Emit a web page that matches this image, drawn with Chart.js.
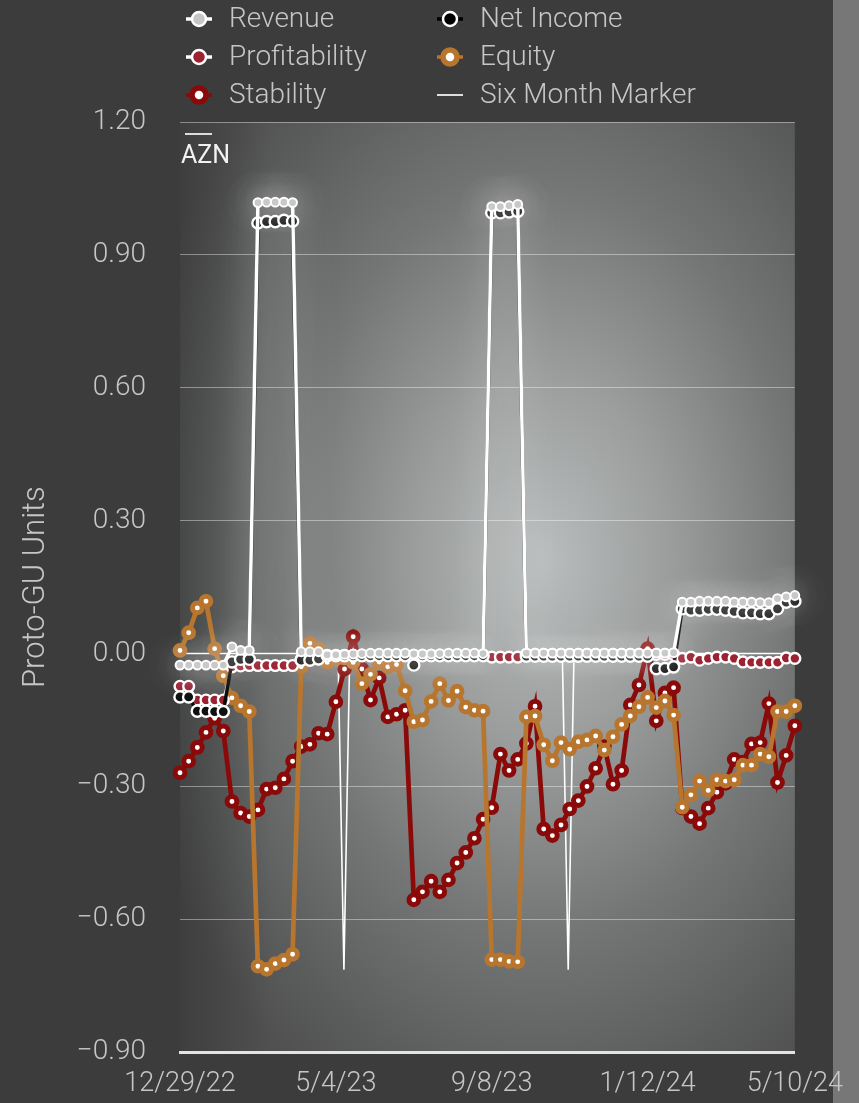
<!DOCTYPE html>
<html><head><meta charset="utf-8">
<script src="https://cdn.jsdelivr.net/npm/chart.js@4/dist/chart.umd.min.js"></script>
<style>
html,body{margin:0;padding:0;background:#3c3c3c;width:859px;height:1103px;overflow:hidden;}
#strip{position:absolute;left:833px;top:0;width:26px;height:1103px;background:#777777;}
#wrap{position:absolute;left:0;top:0;width:859px;height:1103px;}
</style></head><body>
<div id="strip"></div>
<div id="wrap"><canvas id="c" width="859" height="1103"></canvas></div>
<script>
// ---- data ----
const tickIdx = [0, 18, 36, 54, 71];
const tickLabels = ['12/29/22', '5/4/23', '9/8/23', '1/12/24', '5/10/24'];
const yTicks = [1.2, 0.9, 0.6, 0.3, 0, -0.3, -0.6, -0.9];
const ticker = 'AZN';

const revenue = [
 -0.026,-0.026,-0.026,-0.026,-0.026,-0.026,0.015,0.007,0.007,1.018,
 1.019,1.019,1.019,1.018,0.004,0.004,0.004,-0.003,-0.003,-0.002,
 -0.001,0.000,0.001,0.001,0.001,0.001,0.001,-0.001,-0.001,-0.001,
 0.000,0.001,0.001,0.001,0.001,0.000,1.009,1.009,1.011,1.014,
 0.001,0.001,0.001,0.001,0.001,0.001,0.001,0.001,0.001,0.001,
 0.001,0.001,0.001,0.001,0.001,0.001,0.001,0.002,0.116,0.116,
 0.118,0.118,0.118,0.118,0.116,0.116,0.116,0.115,0.115,0.124,
 0.128,0.131];
const netIncome = [
 -0.098,-0.098,-0.130,-0.130,-0.131,-0.131,-0.019,-0.013,-0.013,0.972,
 0.975,0.975,0.978,0.976,-0.015,-0.015,-0.012,-0.005,-0.005,-0.005,
 -0.005,-0.005,-0.005,-0.005,-0.005,-0.005,-0.005,-0.026,-0.005,-0.005,
 -0.005,-0.005,-0.005,-0.005,-0.005,-0.005,0.995,0.995,0.997,0.998,
 -0.006,-0.006,-0.006,-0.006,-0.006,-0.006,-0.006,-0.006,-0.006,-0.006,
 -0.006,-0.006,-0.006,-0.006,-0.006,-0.034,-0.034,-0.030,0.101,0.098,
 0.098,0.100,0.100,0.098,0.095,0.092,0.092,0.090,0.090,0.101,
 0.116,0.118];
const profitability = [
 -0.074,-0.074,-0.105,-0.105,-0.105,-0.105,-0.030,-0.028,-0.027,-0.027,
 -0.027,-0.027,-0.027,-0.027,-0.012,-0.012,-0.012,-0.004,-0.004,-0.004,
 -0.004,-0.004,-0.004,-0.004,-0.004,-0.004,-0.004,-0.004,-0.004,-0.004,
 -0.004,-0.004,-0.004,-0.004,-0.004,-0.004,-0.008,-0.008,-0.008,-0.008,
 -0.002,-0.002,-0.002,-0.002,-0.002,-0.002,-0.002,-0.002,-0.002,-0.002,
 -0.002,-0.002,-0.002,-0.002,-0.002,-0.002,-0.002,-0.002,-0.011,-0.008,
 -0.015,-0.011,-0.008,-0.008,-0.011,-0.019,-0.020,-0.020,-0.020,-0.020,
 -0.010,-0.011];
const equity = [
 0.007,0.047,0.103,0.118,0.011,-0.050,-0.100,-0.118,-0.131,-0.706,
 -0.713,-0.700,-0.692,-0.679,-0.030,0.023,0.010,-0.020,-0.012,-0.010,
 -0.020,-0.068,-0.047,-0.019,-0.030,-0.025,-0.084,-0.154,-0.150,-0.108,
 -0.068,-0.106,-0.085,-0.121,-0.128,-0.130,-0.691,-0.691,-0.695,-0.696,
 -0.143,-0.141,-0.206,-0.242,-0.201,-0.216,-0.199,-0.195,-0.186,-0.218,
 -0.188,-0.160,-0.141,-0.120,-0.099,-0.122,-0.107,-0.139,-0.347,-0.319,
 -0.288,-0.309,-0.285,-0.288,-0.285,-0.252,-0.252,-0.227,-0.233,-0.131,
 -0.131,-0.118];
const stability = [
 -0.269,-0.243,-0.212,-0.178,-0.146,-0.175,-0.334,-0.360,-0.368,-0.353,
 -0.306,-0.303,-0.283,-0.243,-0.210,-0.205,-0.180,-0.182,-0.109,-0.035,
 0.038,-0.035,-0.105,-0.055,-0.143,-0.137,-0.128,-0.556,-0.538,-0.514,
 -0.538,-0.511,-0.473,-0.449,-0.417,-0.374,-0.348,-0.227,-0.264,-0.239,
 -0.203,-0.119,-0.396,-0.411,-0.387,-0.351,-0.332,-0.300,-0.259,-0.210,
 -0.295,-0.264,-0.116,-0.071,0.011,-0.152,-0.089,-0.077,-0.349,-0.368,
 -0.384,-0.349,-0.313,-0.293,-0.239,-0.245,-0.204,-0.201,-0.113,-0.291,
 -0.230,-0.163];
const markerX = [0, 18.25, 18.93, 19.6, 44.15, 44.83, 45.5, 71];
const markerY = [0, 0, -0.714, 0, 0, -0.714, 0, 0];

// ---- build ----
const pts = arr => arr.map((v, i) => ({x: i, y: v}));
const FONT = 'Roboto, "Noto Sans", sans-serif';
const TXT = '#c6c6c6';

const datasets = [
 {label:'Revenue', data: pts(revenue), borderColor:'#ffffff', borderWidth:3.5,
  pointBackgroundColor:'#c6c6c6', pointBorderColor:'#ffffff', pointRadius:4.4, pointBorderWidth:2,
  legendFill:'#c6c6c6', legendBorder:'#ffffff', legendLine:'#ffffff', ring:false},
 {label:'Net Income', data: pts(netIncome), borderColor:'#0a0a0a', borderWidth:3.5,
  pointBackgroundColor:'#101010', pointBorderColor:'#ffffff', pointRadius:5.6, pointBorderWidth:2.4,
  legendFill:'#000000', legendBorder:'#ffffff', legendLine:'#000000', ring:false},
 {label:'Profitability', data: pts(profitability), borderColor:'#ffffff', borderWidth:2.5,
  pointBackgroundColor:'#9c2232', pointBorderColor:'#ffffff', pointRadius:5.4, pointBorderWidth:2.4,
  legendFill:'#9c2232', legendBorder:'#ffffff', legendLine:'#ffffff', ring:false},
 {label:'Equity', data: pts(equity), borderColor:'#b8752e', borderWidth:4.7,
  pointBackgroundColor:'#ffffff', pointBorderColor:'#b8752e', pointRadius:4.9, pointBorderWidth:4.9,
  legendFill:'#ffffff', legendBorder:'#b8752e', legendLine:'#b8752e', ring:true},
 {label:'Stability', data: pts(stability), borderColor:'#8a0909', borderWidth:4.7,
  pointBackgroundColor:'#ffffff', pointBorderColor:'#8a0909', pointRadius:4.9, pointBorderWidth:4.9,
  legendFill:'#ffffff', legendBorder:'#8a0909', legendLine:'#8a0909', ring:true},
 {label:'Six Month Marker', data: markerX.map((x, i) => ({x, y: markerY[i]})), borderColor:'#ffffff', borderWidth:1.6,
  pointRadius:0, legendLine:'#dddddd', lineOnly:true}
];
datasets.forEach(d => { d.tension = 0; d.clip = false; d.fill = false; });

const bgPlugin = {
  id:'bg',
  beforeDraw(chart){
    const {ctx, chartArea:a} = chart;
    const w = a.right - a.left, h = a.bottom - a.top;
    ctx.save();
    ctx.beginPath(); ctx.rect(a.left, a.top, w, h); ctx.clip();
    const cx = a.left + w * 0.59, cy = a.top + h * 0.47;
    ctx.translate(cx, cy); ctx.scale(1, 1.45);
    const g = ctx.createRadialGradient(0, 0, 0, 0, 0, 430);
    g.addColorStop(0, '#babdbd');
    g.addColorStop(0.3, '#9a9d9c');
    g.addColorStop(0.6, '#747675');
    g.addColorStop(0.85, '#5c5e5d');
    g.addColorStop(1, '#4f504f');
    ctx.fillStyle = g;
    ctx.fillRect(-1000, -1000, 2000, 2000);
    ctx.setTransform(1, 0, 0, 1, 0, 0);
    const lg = ctx.createLinearGradient(a.left, 0, a.left + 90, 0);
    lg.addColorStop(0, 'rgba(30,30,30,0.35)');
    lg.addColorStop(1, 'rgba(30,30,30,0)');
    ctx.fillStyle = lg;
    ctx.fillRect(a.left, a.top, 90, h);
    ctx.restore();
  }
};

const glowPlugin = {
  id:'glow',
  beforeDatasetDraw(chart, args){
    if (args.index === 0) {
      chart.ctx.save();
      chart.ctx.shadowColor = 'rgba(255,255,255,0.7)';
      chart.ctx.shadowBlur = 32;
    }
  },
  afterDatasetDraw(chart, args){
    if (args.index === 0) chart.ctx.restore();
  }
};

const LEG = {x0:199, dx:251, y0:19, dy:38, half:13, textGap:30, r:7};
const legendPlugin = {
  id:'customLegend',
  afterDraw(chart){
    const ctx = chart.ctx;
    ctx.save();
    ctx.font = '300 28px ' + FONT;
    ctx.textBaseline = 'middle';
    ctx.textAlign = 'left';
    chart.data.datasets.forEach((ds, i) => {
      const col = i % 2, row = Math.floor(i / 2);
      const cx = LEG.x0 + col * LEG.dx, cy = LEG.y0 + row * LEG.dy;
      ctx.strokeStyle = ds.legendLine;
      ctx.lineWidth = ds.lineOnly ? 2 : 3.5;
      ctx.beginPath(); ctx.moveTo(cx - LEG.half, cy); ctx.lineTo(cx + LEG.half, cy); ctx.stroke();
      if (!ds.lineOnly) {
        ctx.beginPath(); ctx.arc(cx, cy, LEG.r, 0, Math.PI * 2);
        ctx.fillStyle = ds.legendFill; ctx.fill();
        ctx.lineWidth = ds.ring ? 5.5 : 2.5; ctx.strokeStyle = ds.legendBorder; ctx.stroke();
      }
      ctx.fillStyle = TXT;
      ctx.fillText(ds.label, cx + LEG.textGap, cy + 1);
    });
    // ticker label
    const a = chart.chartArea;
    ctx.fillStyle = '#f2f2f2';
    ctx.font = '25px ' + FONT;
    ctx.textBaseline = 'alphabetic';
    ctx.fillText(ticker, a.left + 1, a.top + 41);
    ctx.strokeStyle = '#dddddd'; ctx.lineWidth = 2;
    ctx.beginPath(); ctx.moveTo(a.left + 5, a.top + 12); ctx.lineTo(a.left + 32, a.top + 12); ctx.stroke();
    ctx.restore();
  }
};

new Chart(document.getElementById('c'), {
  type:'line',
  data:{datasets},
  plugins:[bgPlugin, glowPlugin, legendPlugin],
  options:{
    responsive:false, animation:false, devicePixelRatio:1,
    layout:{padding:{top:122, right:64, left:0, bottom:0}},
    plugins:{legend:{display:false}, tooltip:{enabled:false}},
    scales:{
      x:{type:'linear', min:0, max:71,
        afterBuildTicks: s => { s.ticks = tickIdx.map(v => ({value:v})); },
        afterFit: s => { s.height = 48; },
        grid:{display:false, drawTicks:false},
        border:{display:true, color:'#e4e4e4', width:3},
        ticks:{color:TXT, font:{family:FONT, size:27, weight:'300'}, padding:16, maxRotation:0, autoSkip:false,
          callback: v => tickLabels[tickIdx.indexOf(v)]}},
      y:{min:-0.9, max:1.2,
        afterBuildTicks: s => { s.ticks = yTicks.map(v => ({value:v})); },
        afterFit: s => { s.width = 180; },
        grid:{color:'rgba(255,255,255,0.4)', lineWidth:1, drawTicks:false},
        border:{display:false},
        ticks:{color:TXT, font:{family:FONT, size:28, weight:'300'}, padding:34,
          callback: v => Number(v).toFixed(2).replace('-', '\u2212')},
        title:{display:true, text:'Proto-GU Units', color:TXT, font:{family:FONT, size:31, weight:'300'}, padding:{top:18, bottom:0}}}
    }
  }
});
</script>
</body></html>
